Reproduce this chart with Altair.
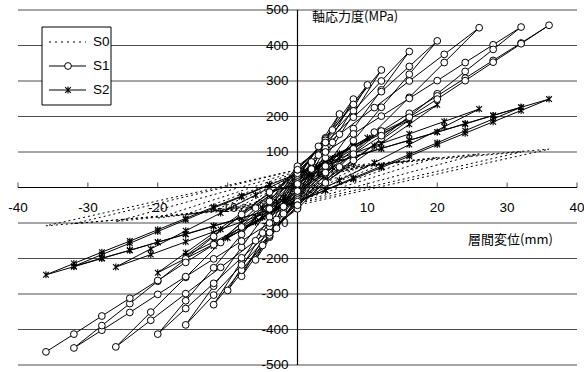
import altair as alt
import pandas as pd

# ---------------- data ----------------
S0_x = [0, 2, 0, -2, 0, 4, 0, -4, 0, 6, 0, -6, 0, 8, 0, -8, 0, 10, 0, -10,
        0, 12, 0, -12, 0, 16, 0, -16, 0, 20, 0, -20, 0, 26, 0, -26, 0, 32, 0, -32,
        0, 36, 0, -36, 0]
S0_y = [8, 18, -8, -18, 13, 30, -13, -30, 18, 40, -18, -40, 22, 50, -22, -50, 26, 58, -26, -58,
        30, 65, -30, -65, 34, 75, -34, -76, 38, 85, -38, -86, 42, 95, -42, -96, 45, 100, -45, -102,
        50, 108, -50, -108, 50]

S1_x = [0, 2, 0, -2,
        0, 2, 4, 2, 0, -2, -4, -2,
        0, 3, 6, 3, 0, -3, -6, -3,
        0, 4, 8, 4, 0, -4, -8, -4,
        0, 5, 10, 5, 0, -5, -10, -5,
        0, 4, 8, 12, 8, 4, 0, -4, -8, -12, -8, -4,
        0, 4, 8, 12, 16, 12, 8, 4, 0, -4, -8, -12, -16, -12, -8, -4,
        0, 4, 8, 12, 16, 20, 16, 12, 8, 4, 0, -4, -8, -12, -16, -20, -16, -12, -8, -4,
        0, 6, 11, 16, 21, 26, 21, 16, 11, 6, 0, -6, -11, -16, -21, -26, -21, -16, -11, -6,
        0, 4, 8, 12, 16, 20, 24, 28, 32, 28, 24, 20, 16, 12, 8, 4, 0,
        -4, -8, -12, -16, -20, -24, -28, -32, -28, -24, -20, -16, -12, -8, -4,
        0, 4, 8, 12, 16, 20, 24, 28, 32, 36, 32, 28, 24, 20, 16, 12, 8, 4, 0,
        -4, -8, -12, -16, -20, -24, -28, -32, -36]
S1_y = [10, 70, -10, -68,
        20, 72, 125, 52, -20, -74, -128, -54,
        25, 116, 207, 91, -25, -115, -204, -90,
        30, 140, 249, 110, -30, -140, -250, -110,
        35, 162, 289, 127, -35, -163, -290, -128,
        40, 137, 234, 331, 207, 84, -40, -137, -233, -330, -207, -83,
        50, 133, 216, 300, 383, 275, 166, 58, -50, -134, -218, -303, -387, -278, -168, -59,
        55, 127, 198, 270, 341, 413, 319, 226, 132, 39, -55, -127, -198, -270, -341, -413, -319, -226, -132, -39,
        60, 150, 225, 300, 375, 450, 352, 254, 156, 58, -60, -150, -225, -299, -374, -449, -351, -253, -155, -58,
        50, 100, 151, 201, 251, 301, 352, 402, 452, 389, 327, 264, 201, 138, 76, 13, -50,
        -100, -151, -201, -251, -301, -352, -402, -452, -389, -327, -264, -201, -138, -76, -13,
        10, 60, 109, 159, 209, 258, 308, 358, 407, 457, 405, 353, 301, 249, 198, 146, 94, 42, -10,
        -60, -111, -161, -211, -262, -312, -362, -413, -463]

S2_x = [0, 2, 0, -2,
        0, 2, 4, 2, 0, -2, -4, -2,
        0, 3, 6, 3, 0, -3, -6, -3,
        0, 4, 8, 4, 0, -4, -8, -4,
        0, 5, 10, 5, 0, -5, -10, -5,
        0, 4, 8, 12, 8, 4, 0, -4, -8, -12, -8, -4,
        0, 4, 8, 12, 16, 12, 8, 4, 0, -4, -8, -12, -16, -12, -8, -4,
        0, 4, 8, 12, 16, 20, 16, 12, 8, 4, 0, -4, -8, -12, -16, -20, -16, -12, -8, -4,
        0, 6, 11, 16, 21, 26, 21, 16, 11, 6, 0, -6, -11, -16, -21, -26, -21, -16, -11, -6,
        0, 4, 8, 12, 16, 20, 24, 28, 32, 28, 24, 20, 16, 12, 8, 4, 0,
        -4, -8, -12, -16, -20, -24, -28, -32, -28, -24, -20, -16, -12, -8, -4,
        0, 4, 8, 12, 16, 20, 24, 28, 32, 36, 32, 28, 24, 20, 16, 12, 8, 4, 0,
        -4, -8, -12, -16, -20, -24, -28, -32, -36, -32, -28, -24, -20, -16, -12, -8, -4]
S2_y = [6, 40, -6, -40,
        12, 41, 70, 29, -12, -42, -72, -30,
        18, 56, 95, 38, -18, -58, -98, -40,
        22, 71, 120, 49, -22, -72, -122, -50,
        25, 82, 140, 57, -25, -84, -142, -58,
        30, 73, 117, 160, 97, 33, -30, -75, -120, -165, -100, -35,
        35, 74, 113, 151, 190, 134, 78, 21, -35, -74, -114, -153, -192, -135, -79, -22,
        40, 79, 117, 156, 194, 233, 178, 124, 69, 15, -40, -80, -120, -160, -200, -240, -184, -128, -72, -16,
        40, 82, 117, 151, 186, 221, 171, 121, 70, 20, -40, -83, -118, -153, -189, -224, -173, -122, -72, -21,
        40, 63, 87, 110, 133, 156, 180, 203, 226, 193, 160, 126, 93, 60, 27, -7, -40,
        -63, -86, -108, -131, -154, -177, -199, -222, -189, -157, -124, -91, -58, -26, 7,
        40, 63, 86, 110, 133, 156, 179, 203, 226, 249, 217, 185, 153, 121, 88, 56, 24, -8, -40,
        -63, -86, -109, -132, -154, -177, -200, -223, -246, -214, -182, -151, -119, -87, -55, -24, 8]

x_ticks = [-40, -30, -20, -10, 0, 10, 20, 30, 40]
x_tick_labels = ["-40", "-30", "-20", "-10", "0", "10", "20", "30", "40"]
y_grid = [500, 400, 300, 200, 100, -100, -200, -300, -400, -500]
y_tick_labels = ["500", "400", "300", "200", "100", "-100", "-200", "-300", "-400", "-500"]
series_names = ["S0", "S1", "S2"]
y_title = "軸応力度(MPa)"
x_title = "層間変位(mm)"

# ---------------- chart ----------------
W, H = 559, 355
NUM_FONT = "Liberation Sans"
JP_FONT = "Noto Sans CJK JP"
STAR = "M-0.9,-0.9L0.9,0.9M-0.9,0.9L0.9,-0.9M0,-1.1L0,1.1"
CIRCLE_SIZE = 46
STAR_SIZE = 40

xs = alt.Scale(domain=[-40, 40], nice=False, zero=False)
ys = alt.Scale(domain=[-500, 500], nice=False, zero=False)


def series_df(xv, yv):
    return pd.DataFrame({"x": xv, "y": yv, "i": list(range(len(xv)))})


d0 = series_df(S0_x, S0_y)
d1 = series_df(S1_x, S1_y)
d2 = series_df(S2_x, S2_y)

X = alt.X("x:Q", scale=xs, axis=None)
Y = alt.Y("y:Q", scale=ys, axis=None)

grid_df = pd.DataFrame({"y": y_grid, "x0": [-40] * len(y_grid), "x1": [40] * len(y_grid)})
grid = alt.Chart(grid_df).mark_rule(color="#4d4d4d", strokeWidth=1).encode(
    x=alt.X("x0:Q", scale=xs, axis=None), x2="x1:Q", y=alt.Y("y:Q", scale=ys, axis=None))

xaxis = alt.Chart(pd.DataFrame({"x0": [-40], "x1": [40], "y": [0]})).mark_rule(
    color="black", strokeWidth=1).encode(
    x=alt.X("x0:Q", scale=xs, axis=None), x2="x1:Q", y=alt.Y("y:Q", scale=ys, axis=None))
yaxis = alt.Chart(pd.DataFrame({"x": [0], "y0": [-500], "y1": [500]})).mark_rule(
    color="black", strokeWidth=1.2).encode(
    x=alt.X("x:Q", scale=xs, axis=None), y=alt.Y("y0:Q", scale=ys, axis=None), y2="y1:Q")

xt_df = pd.DataFrame({"x": x_ticks, "y": [0] * len(x_ticks), "t": x_tick_labels})
xtick = alt.Chart(xt_df).mark_tick(orient="vertical", size=5, thickness=1, color="black",
                                   yOffset=-2.5).encode(x=X, y=Y)
xlab = alt.Chart(xt_df).mark_text(font=NUM_FONT, fontSize=13.5, baseline="middle", align="center",
                                  dy=20).encode(x=X, y=Y, text="t:N")
yt_df = pd.DataFrame({"x": [0] * len(y_grid), "y": y_grid, "t": y_tick_labels})
ylab = alt.Chart(yt_df).mark_text(font=NUM_FONT, fontSize=13.5, baseline="middle", align="right",
                                  dx=-9).encode(x=X, y=Y, text="t:N")

l0 = alt.Chart(d0).mark_line(color="black", strokeWidth=1, strokeDash=[2, 3]).encode(
    x=X, y=Y, order="i:Q")
l2 = alt.Chart(d2).mark_line(color="black", strokeWidth=1).encode(x=X, y=Y, order="i:Q")
p2 = alt.Chart(d2).mark_point(shape=STAR, filled=False, stroke="black", strokeWidth=1.1,
                              size=STAR_SIZE, opacity=1).encode(x=X, y=Y)
l1 = alt.Chart(d1).mark_line(color="black", strokeWidth=1).encode(x=X, y=Y, order="i:Q")
p1 = alt.Chart(d1).mark_point(shape="circle", filled=True, fill="white", stroke="black",
                              strokeWidth=1, size=CIRCLE_SIZE, opacity=1).encode(x=X, y=Y)

one = pd.DataFrame({"a": [0]})
ytitle = alt.Chart(one).mark_text(font=JP_FONT, fontSize=13, align="left", baseline="middle").encode(
    x=alt.value(294), y=alt.value(7), text=alt.value(y_title))
xtitle = alt.Chart(one).mark_text(font=JP_FONT, fontSize=13, align="left", baseline="middle").encode(
    x=alt.value(450), y=alt.value(230), text=alt.value(x_title))

leg_box = alt.Chart(one).mark_rect(fill="white", stroke="black", strokeWidth=1).encode(
    x=alt.value(24), x2=alt.value(93), y=alt.value(17), y2=alt.value(95))
leg_y = [32, 56, 80]
leg_layers = [leg_box]
for k, name in enumerate(series_names):
    rule = alt.Chart(one).mark_rule(color="black", strokeWidth=1,
                                    strokeDash=[2, 4] if k == 0 else [1, 0]).encode(
        x=alt.value(31), x2=alt.value(68), y=alt.value(leg_y[k]))
    leg_layers.append(rule)
    if k == 1:
        leg_layers.append(alt.Chart(one).mark_point(shape="circle", filled=True, fill="white",
                                                    stroke="black", strokeWidth=1, size=CIRCLE_SIZE,
                                                    opacity=1).encode(
            x=alt.value(50), y=alt.value(leg_y[k])))
    if k == 2:
        leg_layers.append(alt.Chart(one).mark_point(shape=STAR, filled=False, stroke="black",
                                                    strokeWidth=1.1, size=STAR_SIZE, opacity=1).encode(
            x=alt.value(50), y=alt.value(leg_y[k])))
    leg_layers.append(alt.Chart(one).mark_text(font=NUM_FONT, fontSize=13.5, align="left",
                                               baseline="middle").encode(
        x=alt.value(75), y=alt.value(leg_y[k]), text=alt.value(name)))

chart = alt.layer(
    grid, xaxis, yaxis, xtick, ylab, xlab, l0, l2, p2, l1, p1, ytitle, xtitle, *leg_layers
).properties(
    width=W, height=H,
    padding={"left": 18, "top": 10, "right": 7, "bottom": 7},
    autosize=alt.AutoSizeParams(type="none"),
    background="white",
).configure_view(stroke=None)

chart.save("out.html", embed_options={"renderer": "svg", "actions": False})
